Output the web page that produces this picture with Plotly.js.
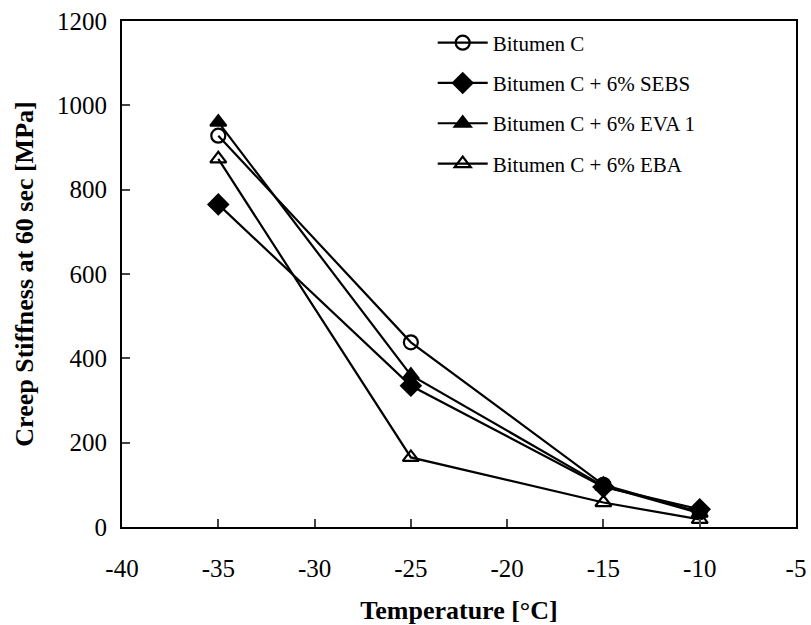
<!DOCTYPE html>
<html><head><meta charset="utf-8">
<script src="https://cdn.plot.ly/plotly-3.0.1.min.js"></script>
<style>body{margin:0;background:#fff}#chart{width:811px;height:625px}</style>
</head><body><div id="chart"></div>
<script>
const temps = [-35, -25, -15, -10];
const bitumenC = [928, 438, 100, 35];
const sebs = [765, 335, 95, 42];
const eva1 = [960, 360, 97, 33];
const eba = [873, 165, 58, 18];
const xTickVals = [-40, -35, -30, -25, -20, -15, -10, -5];
const xTickText = ["-40", "-35", "-30", "-25", "-20", "-15", "-10", "-5"];
const names = ["Bitumen C", "Bitumen C + 6% SEBS", "Bitumen C + 6% EVA 1", "Bitumen C + 6% EBA"];
const symbols = ["circle-open", "diamond", "triangle-up", "triangle-up-open"];
const series = [bitumenC, sebs, eva1, eba];
const traces = series.map((ys, i) => ({
  x: temps, y: ys, name: names[i], legendgroup: "g" + i, type: "scatter", mode: "lines+markers",
  line: {color: "#000", width: 2.2},
  marker: {symbol: symbols[i], size: i === 1 ? 15 : 14, color: "#000",
           line: {color: "#000", width: 2.2}}
}));
const layout = {
  width: 811, height: 625,
  margin: {l: 122, r: 15, t: 21, b: 98},
  paper_bgcolor: "#fff", plot_bgcolor: "#fff",
  font: {family: "Liberation Serif, Times New Roman, serif", color: "#000", size: 25},
  showlegend: true,
  legend: {x: 0.461, y: 0.997, xanchor: "left", yanchor: "top", bgcolor: "rgba(0,0,0,0)",
           font: {size: 21, family: "Liberation Serif, serif"}, tracegroupgap: 10, itemwidth: 50},
  xaxis: {range: [-40, -5], tickvals: xTickVals, ticktext: xTickText, ticks: "inside", ticklen: 8, tickwidth: 2,
          showline: true, linewidth: 2, linecolor: "#000", mirror: true, showgrid: false, zeroline: false,
          tickfont: {size: 25}, ticklabelstandoff: 18,
          title: {text: "<b>Temperature [°C]</b>", font: {size: 26}, standoff: 20}},
  yaxis: {range: [0, 1200], dtick: 200, ticks: "inside", ticklen: 8, tickwidth: 2,
          showline: true, linewidth: 2, linecolor: "#000", mirror: true, showgrid: false, zeroline: false,
          tickfont: {size: 25}, ticklabelstandoff: 8,
          title: {text: "<b>Creep Stiffness at 60 sec [MPa]</b>", font: {size: 26}, standoff: 16}}
};
Plotly.newPlot("chart", traces, layout, {displayModeBar: false});
</script></body></html>
